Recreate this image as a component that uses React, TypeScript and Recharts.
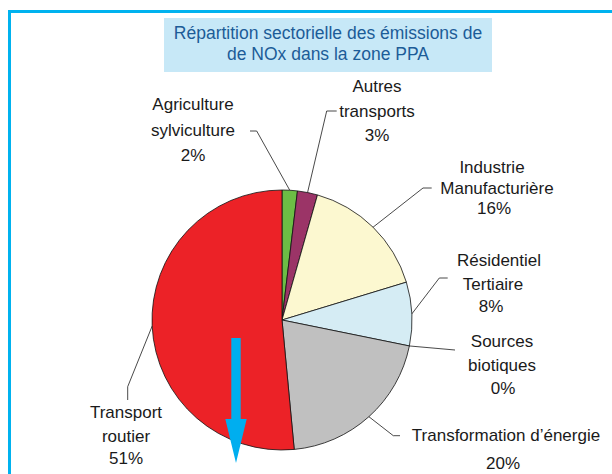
import React from "react";
import { PieChart, Pie, Cell } from "recharts";

// sectors, clockwise from 12 o'clock
const sectors = [
  "Agriculture\nsylviculture",
  "Autres\ntransports",
  "Industrie\nManufacturière",
  "Résidentiel\nTertiaire",
  "Sources\nbiotiques",
  "Transformation d’énergie",
  "Transport\nroutier",
];
const shares = [1.9, 2.5, 15.9, 7.9, 0, 20.3, 51.5];
const percentLabels = ["2%", "3%", "16%", "8%", "0%", "20%", "51%"];
const colors = ["#6cbd45", "#9b3467", "#fcf8d0", "#d5ecf4", "#c8c8c8", "#c0c0c0", "#ec2227"];

const data = sectors.map((name, i) => ({ name, value: shares[i] }));

// label placement: text line centres and leader elbow points
const labelLayout = [
  { lines: [[193, 104], [193, 130], [193, 155]], leader: [[256.7, 131], [250, 131]] },
  { lines: [[377, 86], [377, 111], [377, 135]], leader: [[326.7, 111], [336.7, 111]] },
  { lines: [[492, 167], [497, 188], [494, 208]], leader: [[423, 188], [431.7, 188]] },
  { lines: [[499, 260], [493, 284], [491, 306]], leader: [[439.3, 278], [447.7, 278]] },
  { lines: [[502, 341], [502, 365], [503, 388]], leader: [[455, 350]] },
  { lines: [[506, 435], [503, 463]], leader: [[393.3, 435.7], [400, 435.7]] },
  { lines: [[126, 412], [126, 436], [126, 458]], leader: [[127.7, 386.7], [127.7, 400]] },
];

const RADIAN = Math.PI / 180;
const FONT = "'Liberation Sans', Arial, sans-serif";

function renderLabel(props: any) {
  const { cx, cy, midAngle, outerRadius, index } = props;
  const layout = labelLayout[index];
  const sx = cx + outerRadius * Math.cos(-midAngle * RADIAN);
  const sy = cy + outerRadius * Math.sin(-midAngle * RADIAN);
  const pts = [[sx, sy], ...layout.leader].map((p) => p.join(",")).join(" ");
  const textLines = [...sectors[index].split("\n"), percentLabels[index]];
  return (
    <g key={`lbl-${index}`}>
      <polyline points={pts} fill="none" stroke="#1a1a1a" strokeWidth={0.8} />
      {textLines.map((t, j) => (
        <text
          key={j}
          x={layout.lines[j][0]}
          y={layout.lines[j][1] + 6}
          textAnchor="middle"
          fontFamily={FONT}
          fontSize={17}
          fill="#1a1a1a"
        >
          {t}
        </text>
      ))}
    </g>
  );
}

export default function App() {
  return (
    <div style={{ position: "absolute", left: 0, top: 0, width: 612, height: 474, background: "#fff", overflow: "hidden" }}>
      <div style={{ position: "absolute", left: 8, top: 10, width: 604, height: 3, background: "#00b2ef" }} />
      <div style={{ position: "absolute", left: 8, top: 10, width: 3, height: 464, background: "#00b2ef" }} />
      <div
        style={{
          position: "absolute",
          left: 164,
          top: 18,
          width: 328,
          height: 54,
          background: "#c7e8f7",
          color: "#1c5c98",
          fontFamily: FONT,
          fontSize: 17.5,
          lineHeight: "21px",
          textAlign: "center",
          paddingTop: 5,
          boxSizing: "border-box",
        }}
      >
        Répartition sectorielle des émissions de
        <br />
        de NOx dans la zone PPA
      </div>
      <div style={{ position: "absolute", left: 0, top: 0 }}>
        <PieChart width={612} height={474} margin={{ top: 0, right: 0, bottom: 0, left: 0 }}>
          <Pie
            data={data}
            dataKey="value"
            nameKey="name"
            cx={282}
            cy={320}
            outerRadius={130}
            startAngle={90}
            endAngle={-270}
            stroke="#111"
            strokeWidth={0.8}
            labelLine={false}
            label={renderLabel}
            isAnimationActive={false}
          >
            {data.map((d, i) => (
              <Cell key={d.name} fill={colors[i]} />
            ))}
          </Pie>
        </PieChart>
      </div>
      <svg width={612} height={474} style={{ position: "absolute", left: 0, top: 0, pointerEvents: "none" }}>
        <path d="M231.3,338 L240.7,338 L240.7,419 L246.7,419 L236,463 L225.3,419 L231.3,419 Z" fill="#00aeef" />
      </svg>
    </div>
  );
}
